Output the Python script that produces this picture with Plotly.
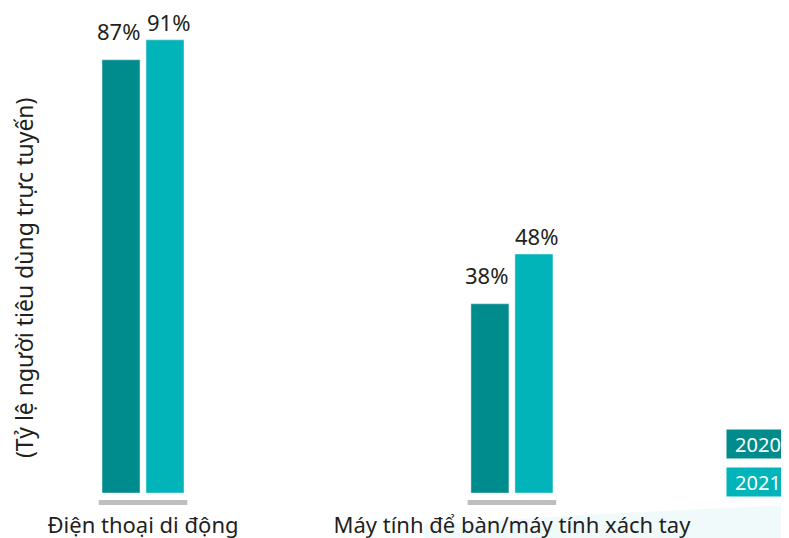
import plotly.graph_objects as go

categories = ["Điện thoại di động", "Máy tính để bàn/máy tính xách tay"]
years = ["2020", "2021"]
values_2020 = [87, 38]
values_2021 = [91, 48]
colors = ["#008B8C", "#00B4B9"]
text_color = "#231F20"
font_family = "Noto Sans"

fig = go.Figure()
for year, vals, col in zip(years, [values_2020, values_2021], colors):
    fig.add_trace(go.Bar(x=categories, y=vals, name=year,
                         marker_color=col, showlegend=False))

# value labels above the bars (left bar / right bar of each group)
for vals, shift, gap in zip([values_2020, values_2021], [-25, 25], [12, 1]):
    for cat, v in zip(categories, vals):
        fig.add_annotation(x=cat, y=v, text=f"{v}%", showarrow=False,
                           xshift=shift, yshift=gap, yanchor="bottom",
                           font=dict(size=22, color=text_color, family=font_family))

# grey baseline under each group
for i, _ in enumerate(categories):
    fig.add_shape(type="rect", xref="x", yref="y",
                  x0=i - 0.12, x1=i + 0.12, y0=-2.4, y1=-1.4,
                  fillcolor="#BCBEC0", line_width=0)

# faint decorative wave bottom right
fig.add_shape(type="path", xref="paper", yref="paper", layer="below",
              path="M 0.5,-0.03 C 0.7,-0.01 0.85,0.0 1.0,0.01 L 1.0,-0.06 L 0.5,-0.06 Z",
              fillcolor="rgba(0,170,185,0.06)", line_width=0)

# legend boxes
for year, col, yp in zip(years, colors, [0.1315, 0.0558]):
    fig.add_annotation(xref="paper", yref="paper", x=0.957, y=yp,
                       text=year, showarrow=False, bgcolor=col,
                       width=58, height=24, borderpad=2,
                       xanchor="center", yanchor="middle",
                       font=dict(size=20, color="white", family=font_family))

fig.add_annotation(xref="paper", yref="paper", x=-0.0494, y=0.464,
                   text="(Tỷ lệ người tiêu dùng trực tuyến)", textangle=-90,
                   showarrow=False, xanchor="center", yanchor="middle",
                   font=dict(size=23, color=text_color, family=font_family))

fig.update_layout(
    width=781, height=530,
    margin=dict(l=52, r=0, t=0, b=28),
    paper_bgcolor="white", plot_bgcolor="white",
    barmode="group", bargap=0.7615, bargroupgap=0.136,
    font=dict(family=font_family, color=text_color),
    xaxis=dict(range=[-0.225, 1.751], showgrid=False, zeroline=False,
               showline=False, ticks="", tickfont=dict(size=22, color=text_color)),
    yaxis=dict(range=[-3.41, 97.4], visible=False),
)

fig.write_html("out.html")
